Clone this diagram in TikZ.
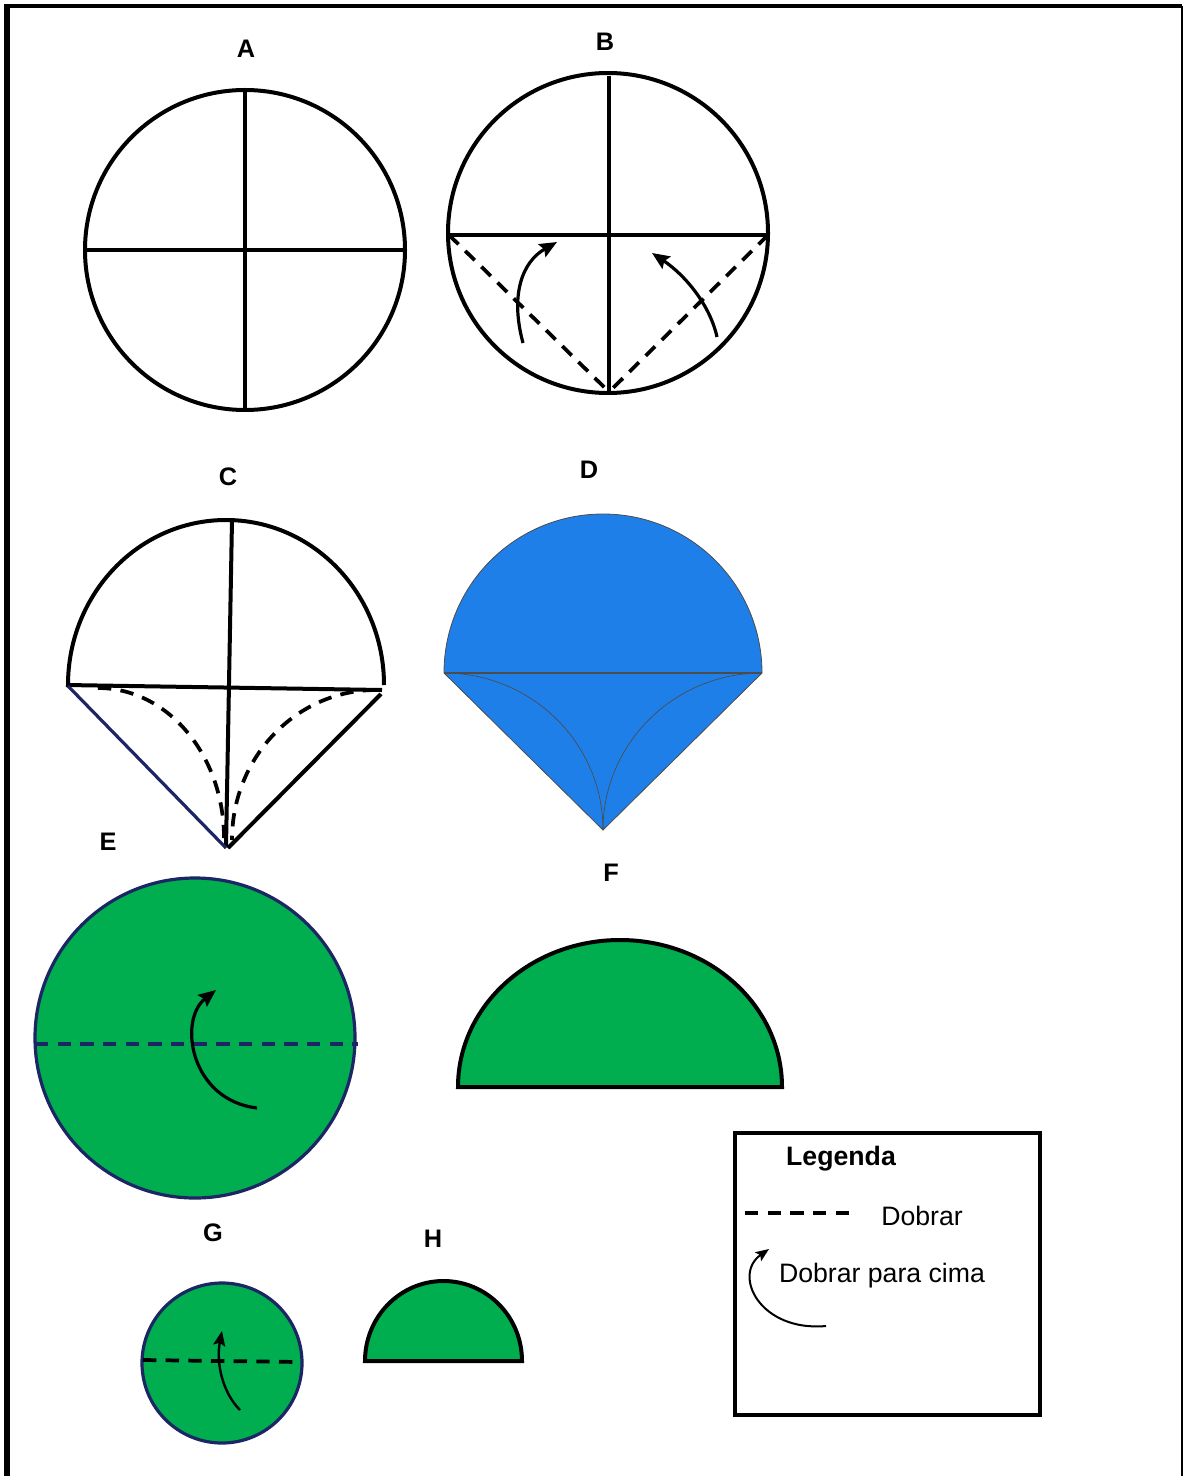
\documentclass[tikz,border=0pt]{standalone}
\usepackage{fontspec}
\setmainfont{Liberation Sans}
\usetikzlibrary{arrows.meta}
\definecolor{folhaverde}{RGB}{0,173,79}
\definecolor{folhaazul}{RGB}{30,127,232}
\definecolor{marinho}{RGB}{28,38,100}

\begin{document}
\begin{tikzpicture}[x=0.75pt,y=0.75pt,>={Stealth[length=13pt,width=11pt,inset=2pt]},
  linha/.style={line width=3pt},
  tracejado/.style={line width=2.8pt,dash pattern=on 10pt off 7pt},
  dobra/.style={->,line width=2.4pt},
  etiqueta/.style={font=\fontsize{19}{22}\selectfont\bfseries},
  legtexto/.style={font=\fontsize{20}{23}\selectfont}]
  \useasboundingbox (0,0) rectangle (1184,-1476);
  % moldura
  \draw[line width=4.5pt] (7,-1476) -- (7,-6);
  \draw[line width=3.5pt] (4,-6) -- (1182,-6);
  \draw[line width=2pt] (1182,-6) -- (1182,-1476);

  % A
  \node[etiqueta] (labA) at (246,-49) {A};
  \draw[linha] (245,-250) circle (160);
  \draw[linha] (83,-250) -- (405,-250);
  \draw[linha] (245,-92) -- (245,-409);

  % B
  \node[etiqueta] (labB) at (605,-42) {B};
  \draw[linha] (608,-233) circle (160);
  \draw[linha] (447,-235) -- (768,-235);
  \draw[linha] (609,-76) -- (609,-393);
  \draw[tracejado] (449,-235) -- (605,-388);
  \draw[tracejado] (768,-235) -- (613,-388);
  \draw[dobra] (523,-343) .. controls (510,-295) and (522,-262) .. (557,-242);
  \draw[dobra] (717,-337) .. controls (710,-305) and (685,-275) .. (652,-253);

  % C
  \node[etiqueta] (labC) at (228,-477) {C};
  \draw[linha] (68,-685) arc[start angle=180,end angle=0,x radius=158,y radius=165];
  \draw[linha] (66,-685) -- (382,-690);
  \draw[linha] (232,-520) -- (226,-847);
  \draw[line width=2.4pt,marinho] (68,-686) -- (226,-848);
  \draw[linha] (381,-694) -- (228,-848);
  \draw[tracejado] (98,-688) arc[start angle=90,end angle=0,x radius=126,y radius=150];
  \draw[tracejado] (376,-690) arc[start angle=90,end angle=180,x radius=144,y radius=150];

  % D
  \node[etiqueta] (labD) at (589,-470) {D};
  \filldraw[fill=folhaazul,draw=black!70,line width=0.6pt]
    (444,-673) arc[start angle=180,end angle=0,radius=159] -- (603,-830) -- cycle;
  \draw[black!70,line width=0.8pt] (444,-673) -- (762,-673);
  \draw[black!70,line width=0.5pt] (444,-673) arc[start angle=90,end angle=0,x radius=159,y radius=157];
  \draw[black!70,line width=0.5pt] (762,-673) arc[start angle=90,end angle=180,x radius=159,y radius=157];

  % E
  \node[etiqueta] (labE) at (108,-842) {E};
  \filldraw[fill=folhaverde,draw=marinho,line width=2.4pt] (195,-1038) circle (160);
  \draw[tracejado,marinho] (35,-1044) -- (358,-1044);
  \draw[dobra] (257,-1108) .. controls (190,-1100) and (178,-1020) .. (216,-990);

  % F
  \node[etiqueta] (labF) at (611,-873) {F};
  \filldraw[fill=folhaverde,draw=black,linha]
    (458,-1087) arc[start angle=180,end angle=0,x radius=162,y radius=147] -- cycle;

  % G
  \node[etiqueta] (labG) at (213,-1233) {G};
  \filldraw[fill=folhaverde,draw=marinho,line width=2.4pt] (222,-1363) circle (80);
  \draw[tracejado] (143,-1360) -- (300,-1362);
  \draw[->,line width=1.8pt,>={Stealth[length=11pt,width=9pt,inset=2pt]}]
    (240,-1410) .. controls (222,-1392) and (216,-1362) .. (222,-1331);

  % H
  \node[etiqueta] (labH) at (433,-1239) {H};
  \filldraw[fill=folhaverde,draw=black,linha]
    (365,-1361) arc[start angle=180,end angle=0,x radius=78.5,y radius=80] -- cycle;

  % legenda
  \draw[line width=3.2pt] (735,-1133) rectangle (1040,-1415);
  \node[etiqueta,font=\fontsize{20}{23}\selectfont\bfseries] (legTitulo) at (841,-1159) {Legenda};
  \draw[tracejado] (745,-1213) -- (855,-1213);
  \node[legtexto] (legDobrar) at (922,-1216) {Dobrar};
  \draw[->,line width=1.5pt,>={Stealth[length=10pt,width=8pt,inset=2pt]}]
    (826,-1326) .. controls (760,-1332) and (732,-1275) .. (769,-1249);
  \node[legtexto] (legCima) at (882,-1276) {Dobrar para cima};
\end{tikzpicture}
\end{document}
